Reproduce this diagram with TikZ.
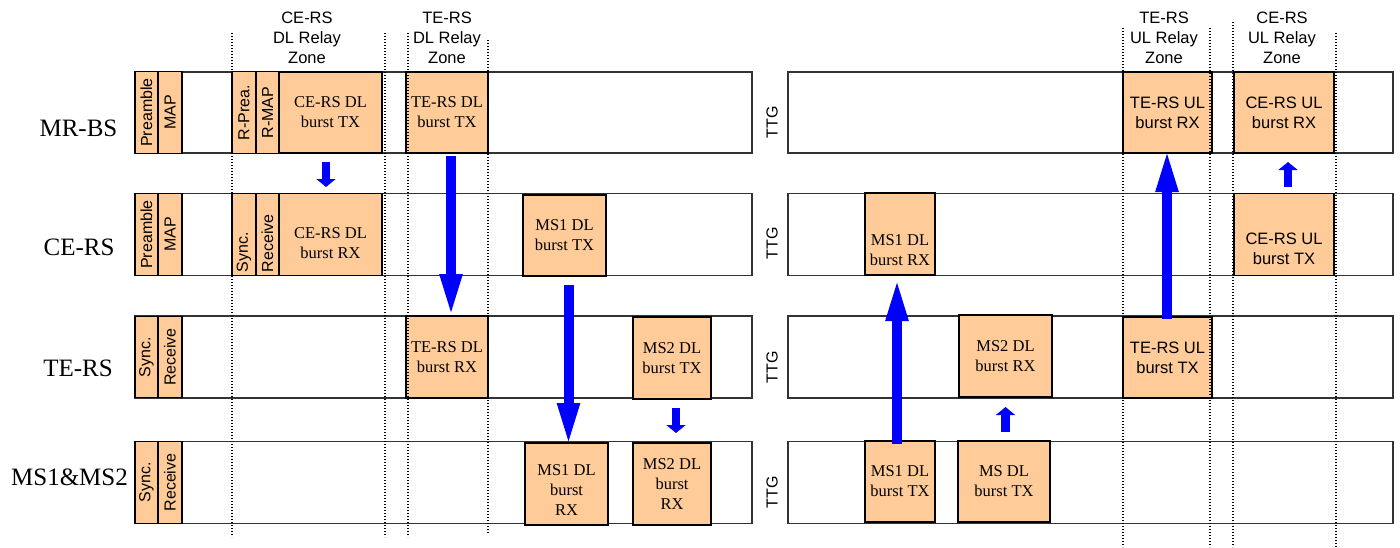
\documentclass[tikz,border=0pt]{standalone}
\usepackage{fontspec}
\setmainfont{Liberation Serif}
\setsansfont{Liberation Sans}
\usetikzlibrary{arrows.meta}
\definecolor{peach}{RGB}{255,204,153}
\newcommand{\boxfont}{\fontsize{16.5}{20}\selectfont}
\newcommand{\hostfont}{\fontsize{25}{30}\selectfont}

\begin{document}
\begin{tikzpicture}[
        x=1pt, y=-1pt,
        rowframe/.style={draw=black!80, line width=1.2pt},
        burst/.style={draw, line width=1.3pt, fill=peach, align=center, inner sep=0pt, outer sep=0pt, font=\boxfont},
        ulburst/.style={burst, font=\boxfont\sffamily},
        slot/.style={draw, line width=1.3pt, fill=peach, rotate=90, inner sep=0pt, outer sep=0pt, minimum width=81.5pt, font=\fontsize{16}{19}\selectfont\sffamily},
        lowtext/.style={text width=75pt, align=left},
        inlbl/.style={align=center, inner sep=0pt, font=\boxfont},
        zone/.style={align=center, inner sep=0pt, font=\boxfont\sffamily},
        host/.style={inner sep=0pt, font=\hostfont},
        ttg/.style={rotate=90, inner sep=0pt, font=\fontsize{16}{19}\selectfont\sffamily},
        zoneline/.style={line width=1.2pt, dash pattern=on 1.2pt off 1.8pt},
        bigflow/.style={draw=blue, line width=10pt, -{Triangle[width=20pt, length=44pt]}},
        smallflow/.style={draw=blue, line width=8.5pt, -{Triangle[width=19pt, length=8pt]}},
    ]
    \useasboundingbox (0,0) rectangle (1400,547);

    % frames of the four rows
    \draw[rowframe] (135,72) rectangle (752,153);
    \draw[rowframe] (788,72) rectangle (1393,153);
    \draw[rowframe] (135,193.5) rectangle (752,275.5);
    \draw[rowframe] (788,193.5) rectangle (1393,275.5);
    \draw[rowframe] (135,316) rectangle (752,398);
    \draw[rowframe] (788,316) rectangle (1393,398);
    \draw[rowframe] (135,441.5) rectangle (752,523.5);
    \draw[rowframe] (788,441.5) rectangle (1393,523.5);

    % MR-BS
    \node[slot, minimum height=23] (bsPre) at (146.5,112.5) {Preamble};
    \node[slot, minimum height=24] (bsMap) at (170,112.5) {MAP};
    \node[slot, minimum height=24] (bsRPre) at (244,112.5) {R-Prea.};
    \node[slot, minimum height=23] (bsRMap) at (267.5,112.5) {R-MAP};
    \node[burst, minimum width=103, minimum height=81] (bsCeTx) at (330.5,112.5) {CE-RS DL\\burst TX};
    \node[burst, minimum width=82, minimum height=81] (bsTeTx) at (447,112.5) {TE-RS DL\\burst TX};
    \node[ulburst, minimum width=89, minimum height=81] (bsTeRx) at (1167.5,112.5) {TE-RS UL\\burst RX};
    \node[ulburst, minimum width=100, minimum height=81] (bsCeRx) at (1284,112.5) {CE-RS UL\\burst RX};

    % CE-RS
    \node[slot, minimum height=23] (cePre) at (146.5,234.5) {Preamble};
    \node[slot, minimum height=24] (ceMap) at (170,234.5) {MAP};
    \node[slot, lowtext, minimum height=24] (ceSync) at (244,234.5) {Sync.};
    \node[slot, lowtext, minimum height=23] (ceRecv) at (267.5,234.5) {Receive};
    \node[burst, minimum width=103, minimum height=82,
        label={[inlbl, yshift=-9pt]center:{CE-RS DL\\burst RX}}] (ceRx) at (330.5,234.5) {};
    \node[burst, minimum width=83, minimum height=81] (ceMsTx) at (564.5,235.5) {MS1 DL\\burst TX};
    \node[burst, minimum width=70, minimum height=82,
        label={[inlbl, yshift=-16pt]center:{MS1 DL\\burst RX}}] (ceMsRx) at (900,234) {};
    \node[ulburst, minimum width=100, minimum height=82,
        label={[inlbl, font=\boxfont\sffamily, yshift=-14pt]center:{CE-RS UL\\burst TX}}] (ceUlTx) at (1284,234.5) {};

    % TE-RS
    \node[slot, minimum height=23] (teSync) at (146.5,357) {Sync.};
    \node[slot, minimum height=24] (teRecv) at (170,357) {Receive};
    \node[burst, minimum width=82, minimum height=82] (teRx) at (447,357) {TE-RS DL\\burst RX};
    \node[burst, minimum width=78, minimum height=82] (teMsTx) at (672,358) {MS2 DL\\burst TX};
    \node[burst, minimum width=93, minimum height=82] (teMsRx) at (1005.5,356) {MS2 DL\\burst RX};
    \node[ulburst, minimum width=89, minimum height=81] (teUlTx) at (1167.5,357.5) {TE-RS UL\\burst TX};

    % MS1&MS2
    \node[slot, minimum height=23] (msSync) at (146.5,482.5) {Sync.};
    \node[slot, minimum height=24] (msRecv) at (170,482.5) {Receive};
    \node[burst, minimum width=83, minimum height=82,
        label={[inlbl, yshift=-6pt]center:{MS1 DL\\burst\\RX}}] (msRx1) at (566.5,484) {};
    \node[burst, minimum width=78, minimum height=82] (msRx2) at (672,484) {MS2 DL\\burst\\RX};
    \node[burst, minimum width=70, minimum height=81] (msTx1) at (900,481.5) {MS1 DL\\burst TX};
    \node[burst, minimum width=92, minimum height=81] (msTx2) at (1004,481.5) {MS DL\\burst TX};

    % relay zone borders
    \foreach \x/\a/\b in {232/33/537, 385/33/537, 408/33/537, 488/40/533,
                          1123/28/547, 1210/28/547, 1233/22/547, 1336/33/547}
        \draw[zoneline] (\x,\a) -- (\x,\b);

    % bursts passed on
    \draw[smallflow, shorten <=9pt, shorten >=6.5pt] ([xshift=-4.5]bsCeTx.south) -- ([xshift=-4.5]bsCeTx.south |- ceRx.north);
    \draw[bigflow, shorten <=3pt, shorten >=-2pt] ([xshift=4]bsTeTx.south) -- ([xshift=4]bsTeTx.south |- teRx.north);
    \draw[bigflow, shorten <=9pt, shorten >=-4pt] ([xshift=4]ceMsTx.south) -- ([xshift=4]ceMsTx.south |- msRx1.north);
    \draw[smallflow, shorten <=9pt, shorten >=10pt] ([xshift=4]teMsTx.south) -- ([xshift=4]teMsTx.south |- msRx2.north);
    \draw[bigflow, shorten <=-3pt, shorten >=2pt] ([xshift=-3]msTx1.north) -- ([xshift=-3]msTx1.north |- ceMsRx.south);
    \draw[smallflow, shorten <=9pt, shorten >=10pt] ([xshift=1.5]msTx2.north) -- ([xshift=1.5]msTx2.north |- teMsRx.south);
    \draw[bigflow, shorten <=-2pt, shorten >=-5pt] ([xshift=-0.5]teUlTx.north) -- ([xshift=-0.5]teUlTx.north |- bsTeRx.south);
    \draw[smallflow, shorten <=6.5pt, shorten >=9pt] ([xshift=4]ceUlTx.north) -- ([xshift=4]ceUlTx.north |- bsCeRx.south);

    % TTG
    \node[ttg] (ttgBS) at (772,122) {TTG};
    \node[ttg] (ttgCE) at (772,243) {TTG};
    \node[ttg] (ttgTE) at (772,367) {TTG};
    \node[ttg] (ttgMS) at (772,492) {TTG};

    % station names
    \node[host] (hostBS) at (78.5,128.5) {MR-BS};
    \node[host] (hostCE) at (79,247.5) {CE-RS};
    \node[host] (hostTE) at (78,368) {TE-RS};
    \node[host] (hostMS) at (69.5,477.5) {MS1\&MS2};

    % zone titles
    \node[zone] (zoneCeDl) at (307,38) {CE-RS\\DL Relay\\Zone};
    \node[zone] (zoneTeDl) at (447,38) {TE-RS\\DL Relay\\Zone};
    \node[zone] (zoneTeUl) at (1164,38) {TE-RS\\UL Relay\\Zone};
    \node[zone] (zoneCeUl) at (1282,38) {CE-RS\\UL Relay\\Zone};
\end{tikzpicture}
\end{document}
